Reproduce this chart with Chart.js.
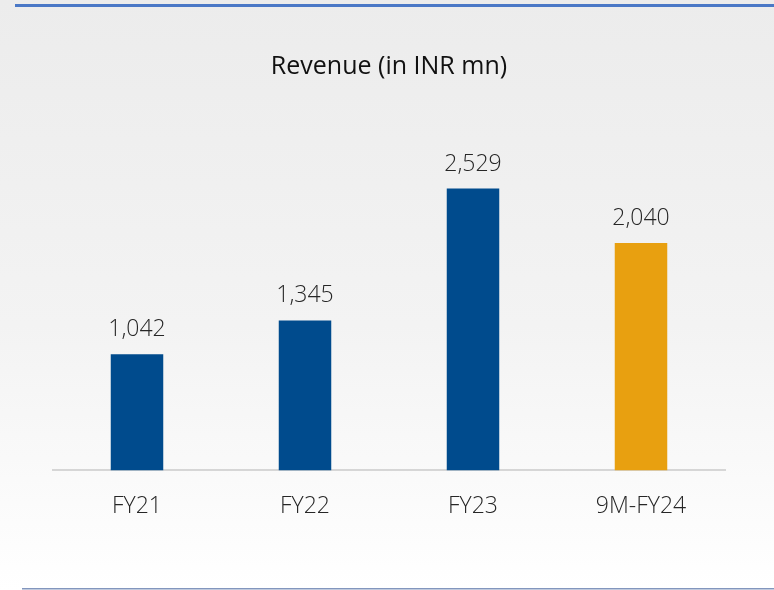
<!DOCTYPE html>
<html>
<head>
<meta charset="utf-8">
<script src="https://cdn.jsdelivr.net/npm/chart.js@4.4.1/dist/chart.umd.min.js"></script>
<style>
  html, body { margin: 0; padding: 0; background: #fff; }
  #wrap { width: 774px; height: 590px; position: relative; }
</style>
</head>
<body>
<div id="wrap"><canvas id="revChart" width="774" height="590"></canvas></div>
<script>
// chart data
var categories = ["FY21", "FY22", "FY23", "9M-FY24"]
var revenue = [1042, 1345, 2529, 2040]
var barColors = ["#004b8d", "#004b8d", "#004b8d", "#e8a010"]
var yTicks = { min: 0, max: 3000 }

var fontFamily = "'Open Sans', 'Noto Sans', sans-serif"

//background, top and bottom rules
var backdrop = {
    id: 'backdrop',
    beforeDraw: function (chart) {
        var ctx = chart.ctx
        var w = chart.width, h = chart.height
        ctx.save()
        var g = ctx.createLinearGradient(0, 0, 0, h)
        g.addColorStop(0, '#ececec')
        g.addColorStop(0.55, '#f3f3f3')
        g.addColorStop(0.85, '#fbfbfb')
        g.addColorStop(1, '#ffffff')
        ctx.fillStyle = g
        ctx.fillRect(0, 0, w, h)
        ctx.fillStyle = '#4a78c6'
        ctx.fillRect(15, 4, w - 15, 3)
        ctx.fillStyle = '#8296bd'
        ctx.fillRect(22, 588, w - 22, 1.5)
        ctx.restore()
    }
}

//value labels above bars
var valueLabels = {
    id: 'valueLabels',
    afterDatasetsDraw: function (chart) {
        var ctx = chart.ctx
        var meta = chart.getDatasetMeta(0)
        ctx.save()
        ctx.font = '300 23px ' + fontFamily
        ctx.fillStyle = '#262626'
        ctx.textAlign = 'center'
        ctx.textBaseline = 'alphabetic'
        meta.data.forEach(function (bar, i) {
            ctx.fillText(revenue[i].toLocaleString('en-US'), bar.x, bar.y - 18)
        })
        ctx.restore()
    }
}

var ctx = document.getElementById("revChart").getContext('2d')
var myChart = new Chart(ctx, {
    type: 'bar',
    data: {
        labels: categories,
        datasets: [{
            data: revenue,
            backgroundColor: barColors,
            borderColor: barColors,
            borderWidth: 0,
            barPercentage: 0.3125,
            categoryPercentage: 1
        }]
    },
    options: {
        responsive: false,
        animation: false,
        layout: { padding: { left: 53, right: 49, top: 0, bottom: 48 } },
        plugins: {
            legend: { display: false },
            tooltip: { enabled: false },
            title: {
                display: true,
                text: 'Revenue (in INR mn)',
                color: '#111',
                font: { family: fontFamily, size: 25, weight: 'normal' },
                padding: { top: 52, bottom: 54 }
            }
        },
        scales: {
            x: {
                grid: { display: false, drawTicks: false },
                border: { display: true, color: '#d6d6d6', width: 2 },
                ticks: {
                    color: '#262626',
                    padding: 22,
                    font: { family: fontFamily, size: 23, weight: 300 }
                }
            },
            y: {
                display: false,
                min: yTicks.min,
                max: yTicks.max
            }
        }
    },
    plugins: [backdrop, valueLabels]
})
</script>
</body>
</html>
